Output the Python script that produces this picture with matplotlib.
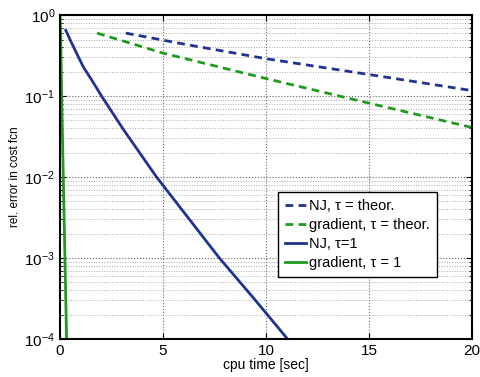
import matplotlib
matplotlib.use("Agg")
import matplotlib.pyplot as plt
from matplotlib.ticker import LogLocator, NullFormatter

plt.rcParams['font.family'] = ['Liberation Sans', 'DejaVu Sans']

# NJ, tau = theor.
nj_th_t = [3.2, 6.0, 10.0, 15.0, 20.0]
nj_th_e = [0.60, 0.44, 0.29, 0.185, 0.117]
# gradient, tau = theor.
gr_th_t = [1.8, 5.0, 10.0, 15.0, 20.0]
gr_th_e = [0.60, 0.34, 0.165, 0.082, 0.041]
# NJ, tau = 1
nj_t = [0.28, 0.57, 1.13, 1.54, 2.02, 3.07, 4.69, 6.2, 7.74, 9.4, 10.0, 11.05]
nj_e = [0.65, 0.45, 0.23, 0.158, 0.10, 0.039, 0.010, 0.0032, 0.001,
        0.00032, 0.00021, 0.0001]
# gradient, tau = 1
gr_t = [0.0, 0.03, 0.08, 0.16, 0.24, 0.32]
gr_e = [1.0, 0.6, 0.1, 0.01, 0.001, 0.0001]

blue = '#1f338f'
green = '#1f9a1f'

fig = plt.figure(figsize=(4.8, 3.77), dpi=100)
ax = fig.add_axes([0.125, 0.1008, 0.858, 0.859])

ax.semilogy(nj_th_t, nj_th_e, '--', color=blue, lw=2, dashes=(2.8, 1.9), label='NJ, \u03c4 = theor.')
ax.semilogy(gr_th_t, gr_th_e, '--', color=green, lw=2, dashes=(2.8, 1.9), label='gradient, \u03c4 = theor.')
ax.semilogy(nj_t, nj_e, '-', color=blue, lw=2, label='NJ, \u03c4=1')
ax.semilogy(gr_t, gr_e, '-', color=green, lw=2, label='gradient, \u03c4 = 1')

ax.set_xlim(0, 20)
ax.set_ylim(1e-4, 1)
ax.set_xticks([0, 5, 10, 15, 20])
ax.yaxis.set_major_locator(LogLocator(base=10, numticks=10))
ax.yaxis.set_minor_locator(LogLocator(base=10, subs=range(2, 10), numticks=10))
ax.yaxis.set_minor_formatter(NullFormatter())

ax.grid(True, which='major', ls=':', color='#666666', lw=0.8)
ax.grid(True, which='minor', axis='y', ls=':', color='#aaaaaa', lw=0.7)

ax.tick_params(which='both', direction='in', top=True, right=True, labelsize=11)
ax.tick_params(which='major', length=4)
ax.tick_params(which='minor', length=2)
for s in ax.spines.values():
    s.set_linewidth(1.5)

ax.set_xlabel('cpu time [sec]', fontsize=10, labelpad=0)
ax.set_ylabel('rel. error in cost fcn', fontsize=8.5, labelpad=2)

leg = ax.legend(loc='lower right', bbox_to_anchor=(0.915, 0.19), fontsize=10.5,
                handlelength=1.4, handletextpad=0.2, labelspacing=0.34,
                borderpad=0.5, borderaxespad=0, frameon=True, fancybox=False,
                framealpha=1)
leg.get_frame().set_edgecolor('black')
leg.get_frame().set_linewidth(1)

fig.savefig('out.png', dpi=100)
